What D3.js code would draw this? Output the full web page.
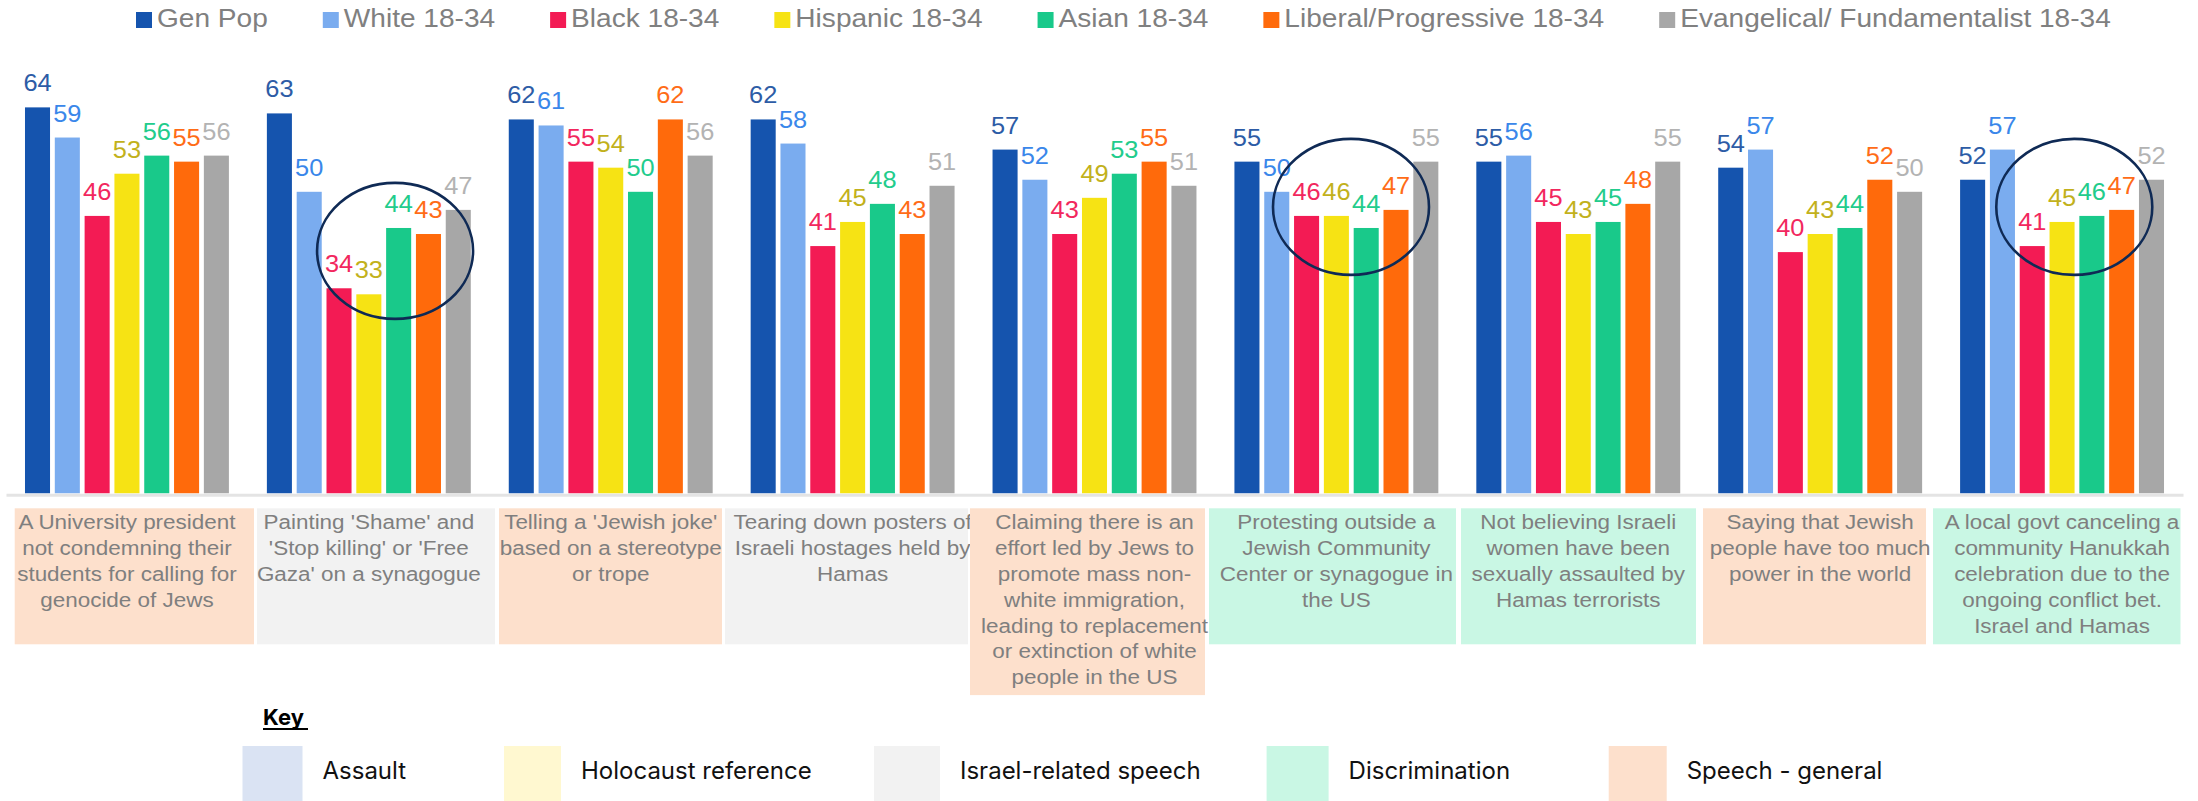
<!DOCTYPE html>
<html>
<head>
<meta charset="utf-8">
<script src="https://cdn.jsdelivr.net/npm/d3@7"></script>
<style>
  html, body { margin: 0; padding: 0; background: #ffffff; }
  svg { display: block; }
</style>
</head>
<body>
<svg id="chart" width="2198" height="801"></svg>
<script>
// ---- data -------------------------------------------------------------
const categoryLines = [
  ["A University president", "not condemning their", "students for calling for", "genocide of Jews"],
  ["Painting 'Shame' and", "'Stop killing' or 'Free", "Gaza' on a synagogue"],
  ["Telling a 'Jewish joke'", "based on a stereotype", "or trope"],
  ["Tearing down posters of", "Israeli hostages held by", "Hamas"],
  ["Claiming there is an", "effort led by Jews to", "promote mass non-", "white immigration,", "leading to replacement", "or extinction of white", "people in the US"],
  ["Protesting outside a", "Jewish Community", "Center or synagogue in", "the US"],
  ["Not believing Israeli", "women have been", "sexually assaulted by", "Hamas terrorists"],
  ["Saying that Jewish", "people have too much", "power in the world"],
  ["A local govt canceling a", "community Hanukkah", "celebration due to the", "ongoing conflict bet.", "Israel and Hamas"]
];
const categories = categoryLines.map(l => l.join(" "));

const categoryTypes = [
  "Speech - general", "Israel-related speech", "Speech - general", "Israel-related speech",
  "Speech - general", "Discrimination", "Discrimination", "Speech - general", "Discrimination"
];

const seriesNames = [
  "Gen Pop", "White 18-34", "Black 18-34", "Hispanic 18-34",
  "Asian 18-34", "Liberal/Progressive 18-34", "Evangelical/ Fundamentalist 18-34"
];

const genPop      = [64, 63, 62, 62, 57, 55, 55, 54, 52];
const white       = [59, 50, 61, 58, 52, 50, 56, 57, 57];
const black       = [46, 34, 55, 41, 43, 46, 45, 40, 41];
const hispanic    = [53, 33, 54, 45, 49, 46, 43, 43, 45];
const asian       = [56, 44, 50, 48, 53, 44, 45, 44, 46];
const liberal     = [55, 43, 62, 43, 55, 47, 48, 52, 47];
const evangelical = [56, 47, 56, 51, 51, 55, 55, 50, 52];
const seriesValues = [genPop, white, black, hispanic, asian, liberal, evangelical];

const keyTypes = ["Assault", "Holocaust reference", "Israel-related speech", "Discrimination", "Speech - general"];

// circled groups: category index, anchor (bar slot, value)
const highlights = [
  { category: 1, slot: 3.88, value: 40.2 },
  { category: 5, slot: 3.49, value: 47.5 },
  { category: 8, slot: 3.41, value: 47.5 }
];

// ---- styles -----------------------------------------------------------
const barColors   = ["#1554ae", "#7aacef", "#f31b54", "#f6e314", "#19c98a", "#ff6a0b", "#a7a7a7"];
const labelColors = ["#2d5ca6", "#3a87ea", "#f2275e", "#c2b11c", "#22cc8c", "#ff6c17", "#b3b3b3"];
const typeColors  = {
  "Assault": "#dae3f3",
  "Holocaust reference": "#fff8d0",
  "Israel-related speech": "#f2f2f2",
  "Discrimination": "#c9f7e4",
  "Speech - general": "#fde0cc"
};
const SX = 1.08; // slight horizontal stretch of the Arial-like text
const FONT = "'Liberation Sans', Arial, Helvetica, sans-serif";

const svg = d3.select("#chart");

// ---- scales -----------------------------------------------------------
const x0 = d3.scaleBand().domain(categories).range([6, 2183]).paddingInner(0.157).paddingOuter(0.0785);
const x1 = d3.scaleBand().domain(seriesNames).range([0, x0.bandwidth()]).paddingInner(0.16);
const y  = d3.scaleLinear().domain([0, 70]).range([493.3, 493.3 - 70 * 6.03]);
const barColor   = d3.scaleOrdinal(seriesNames, barColors);
const labelColor = d3.scaleOrdinal(seriesNames, labelColors);

function stretchedText(sel, x, yy) {
  return sel.attr("transform", `translate(${x},${yy}) scale(${SX},1)`);
}

// ---- legend (top) -----------------------------------------------------
const legend = svg.append("g").attr("class", "legend");
let lx = 136;
seriesNames.forEach((s, i) => {
  legend.append("rect").attr("x", lx).attr("y", 12).attr("width", 16).attr("height", 16)
    .attr("fill", barColor(s));
  const t = legend.append("text")
    .attr("font-family", FONT).attr("font-size", 26).attr("fill", "#808080")
    .text(s);
  stretchedText(t, lx + 21, 27);
  const w = t.node().getComputedTextLength() * SX;
  lx += 21 + w + 55;
});

// ---- bars -------------------------------------------------------------
const groups = svg.append("g").attr("class", "bars")
  .selectAll("g").data(categories).join("g")
  .attr("transform", d => `translate(${x0(d)},0)`);

const cells = groups.selectAll("g.cell")
  .data((d, i) => seriesNames.map((s, j) => ({ s, v: seriesValues[j][i] })))
  .join("g").attr("class", "cell");

cells.append("rect")
  .attr("x", d => x1(d.s))
  .attr("y", d => y(d.v))
  .attr("width", x1.bandwidth())
  .attr("height", d => y(0) - y(d.v))
  .attr("fill", d => barColor(d.s));

cells.append("text")
  .attr("font-family", FONT).attr("font-size", 23.5)
  .attr("text-anchor", "middle")
  .attr("fill", d => labelColor(d.s))
  .text(d => d.v)
  .each(function (d) { stretchedText(d3.select(this), x1(d.s) + x1.bandwidth() / 2, y(d.v) - 16); });

// ---- baseline axis ----------------------------------------------------
const axis = svg.append("g").attr("transform", `translate(0,${y(0) + 1.5})`)
  .call(d3.axisBottom(x0).tickSize(0).tickSizeOuter(0).tickFormat(""));
axis.select(".domain").attr("stroke", "#e4e4e4").attr("stroke-width", 3);
axis.selectAll(".tick").remove();

// ---- highlight ellipses -----------------------------------------------
svg.append("g").selectAll("ellipse").data(highlights).join("ellipse")
  .attr("cx", d => x0(categories[d.category]) + d.slot * x1.step() + x1.bandwidth() / 2)
  .attr("cy", d => y(d.value))
  .attr("rx", 78).attr("ry", 68)
  .attr("fill", "none").attr("stroke", "#0f2a55").attr("stroke-width", 2.6);

// ---- category boxes ---------------------------------------------------
// table column edges (the table's columns are not all the same width)
const columnEdges = [[14.7, 254], [257, 495], [499, 722], [725, 968], [970, 1205],
                     [1209, 1456], [1461, 1696], [1703, 1926], [1933, 2180.5]];
const lineH = 25.8, boxTop = 508.3;
const boxes = svg.append("g").attr("class", "table")
  .selectAll("g").data(categories).join("g");

boxes.append("rect")
  .attr("x", (d, i) => columnEdges[i][0])
  .attr("y", boxTop)
  .attr("width", (d, i) => columnEdges[i][1] - columnEdges[i][0])
  .attr("height", (d, i) => Math.max(136, 21 + (categoryLines[i].length - 1) * lineH + 11))
  .attr("fill", (d, i) => typeColors[categoryTypes[i]]);

boxes.each(function (d, i) {
  const gx = x0(d) + x0.bandwidth() / 2;
  categoryLines[i].forEach((line, k) => {
    const t = d3.select(this).append("text")
      .attr("font-family", FONT).attr("font-size", 20.8)
      .attr("text-anchor", "middle").attr("fill", "#7f7f7f")
      .text(line);
    stretchedText(t, gx, boxTop + 21 + k * lineH);
  });
});

// ---- key --------------------------------------------------------------
const key = svg.append("g").attr("class", "key");
key.append("text").attr("x", 263).attr("y", 725)
  .attr("font-family", "Inter, 'Noto Sans', sans-serif").attr("font-weight", 700)
  .attr("font-size", 22).attr("fill", "#000").text("Key");
key.append("line").attr("x1", 263).attr("x2", 308).attr("y1", 729).attr("y2", 729)
  .attr("stroke", "#000").attr("stroke-width", 2);

const keySlots = [242.5, 504, 874, 1266.6, 1608.7];
const keyWidths = [60, 57, 66, 62, 58];
keyTypes.forEach((k, i) => {
  key.append("rect").attr("x", keySlots[i]).attr("y", 746)
    .attr("width", keyWidths[i]).attr("height", 60).attr("fill", typeColors[k]);
  key.append("text").attr("x", keySlots[i] + keyWidths[i] + 20).attr("y", 779)
    .attr("font-family", "Inter, 'Noto Sans', sans-serif").attr("font-size", 24)
    .attr("fill", "#111").text(k);
});
</script>
</body>
</html>
